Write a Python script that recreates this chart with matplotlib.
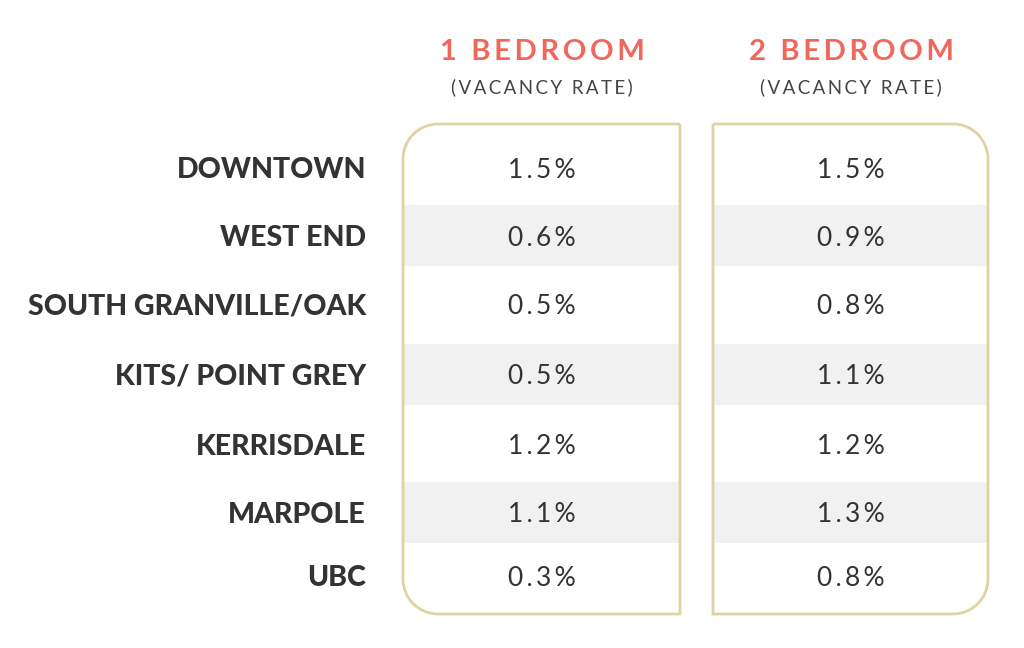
import matplotlib
matplotlib.use("Agg")
import matplotlib.pyplot as plt
from matplotlib.path import Path
from matplotlib.patches import PathPatch, Rectangle

areas = ["DOWNTOWN", "WEST END", "SOUTH GRANVILLE/OAK", "KITS/ POINT GREY", "KERRISDALE", "MARPOLE", "UBC"]
one_bed = [1.5, 0.6, 0.5, 0.5, 1.2, 1.1, 0.3]
two_bed = [1.5, 0.9, 0.8, 1.1, 1.2, 1.3, 0.8]
headers = ["1 BEDROOM", "2 BEDROOM"]
subheader = "(VACANCY RATE)"

W, H = 1024, 648
fig = plt.figure(figsize=(W/100, H/100), dpi=100)
ax = fig.add_axes([0, 0, 1, 1])
ax.set_xlim(0, W); ax.set_ylim(H, 0); ax.axis("off")

row_y = [170, 238, 307, 377, 447, 515, 578]
band_edges = [(205, 266), (344, 405), (482, 543)]
cols = [(403, 680), (713, 988)]
top, bot, r = 124, 614, 35
border = "#dfd3a3"
TS = "\u2009"

def box(x0, x1, rounded_left):
    k = 0.5523 * r
    if rounded_left:
        verts = [(x1, top), (x0 + r, top),
                 (x0 + r - k, top), (x0, top + r - k), (x0, top + r),
                 (x0, bot - r),
                 (x0, bot - r + k), (x0 + r - k, bot), (x0 + r, bot),
                 (x1, bot), (x1, top)]
    else:
        verts = [(x0, top), (x1 - r, top),
                 (x1 - r + k, top), (x1, top + r - k), (x1, top + r),
                 (x1, bot - r),
                 (x1, bot - r + k), (x1 - r + k, bot), (x1 - r, bot),
                 (x0, bot), (x0, top)]
    codes = [Path.MOVETO, Path.LINETO, Path.CURVE4, Path.CURVE4, Path.CURVE4,
             Path.LINETO, Path.CURVE4, Path.CURVE4, Path.CURVE4, Path.LINETO, Path.LINETO]
    return Path(verts, codes)

for i, (x0, x1) in enumerate(cols):
    for (a, b) in band_edges:
        ax.add_patch(Rectangle((x0, a), x1 - x0, b - a, color="#f0f1f0", lw=0, zorder=1))
    ax.add_patch(PathPatch(box(x0, x1, i == 0), fill=False, ec=border, lw=2, zorder=2))
    cx = (x0 + x1) / 2
    ax.text(cx + 1, 52, TS.join(headers[i]), ha="center", va="center", fontsize=21, fontweight="bold",
            color="#f0675b", family="Lato")
    ax.text(cx, 87, TS.join(subheader), ha="center", va="center", fontsize=13.5, color="#444444", family="Lato")
    vals = one_bed if i == 0 else two_bed
    for y, v in zip(row_y, vals):
        ax.text(cx, y, TS.join(f"{v:.1f}%"), ha="center", va="center", fontsize=19, color="#333333", family="Lato")

for y, name in zip(row_y, areas):
    ax.text(366, y, name, ha="right", va="center", fontsize=20.5, fontweight="heavy", color="#333333", family="Lato")

fig.savefig("out.png", dpi=100, facecolor="white")
